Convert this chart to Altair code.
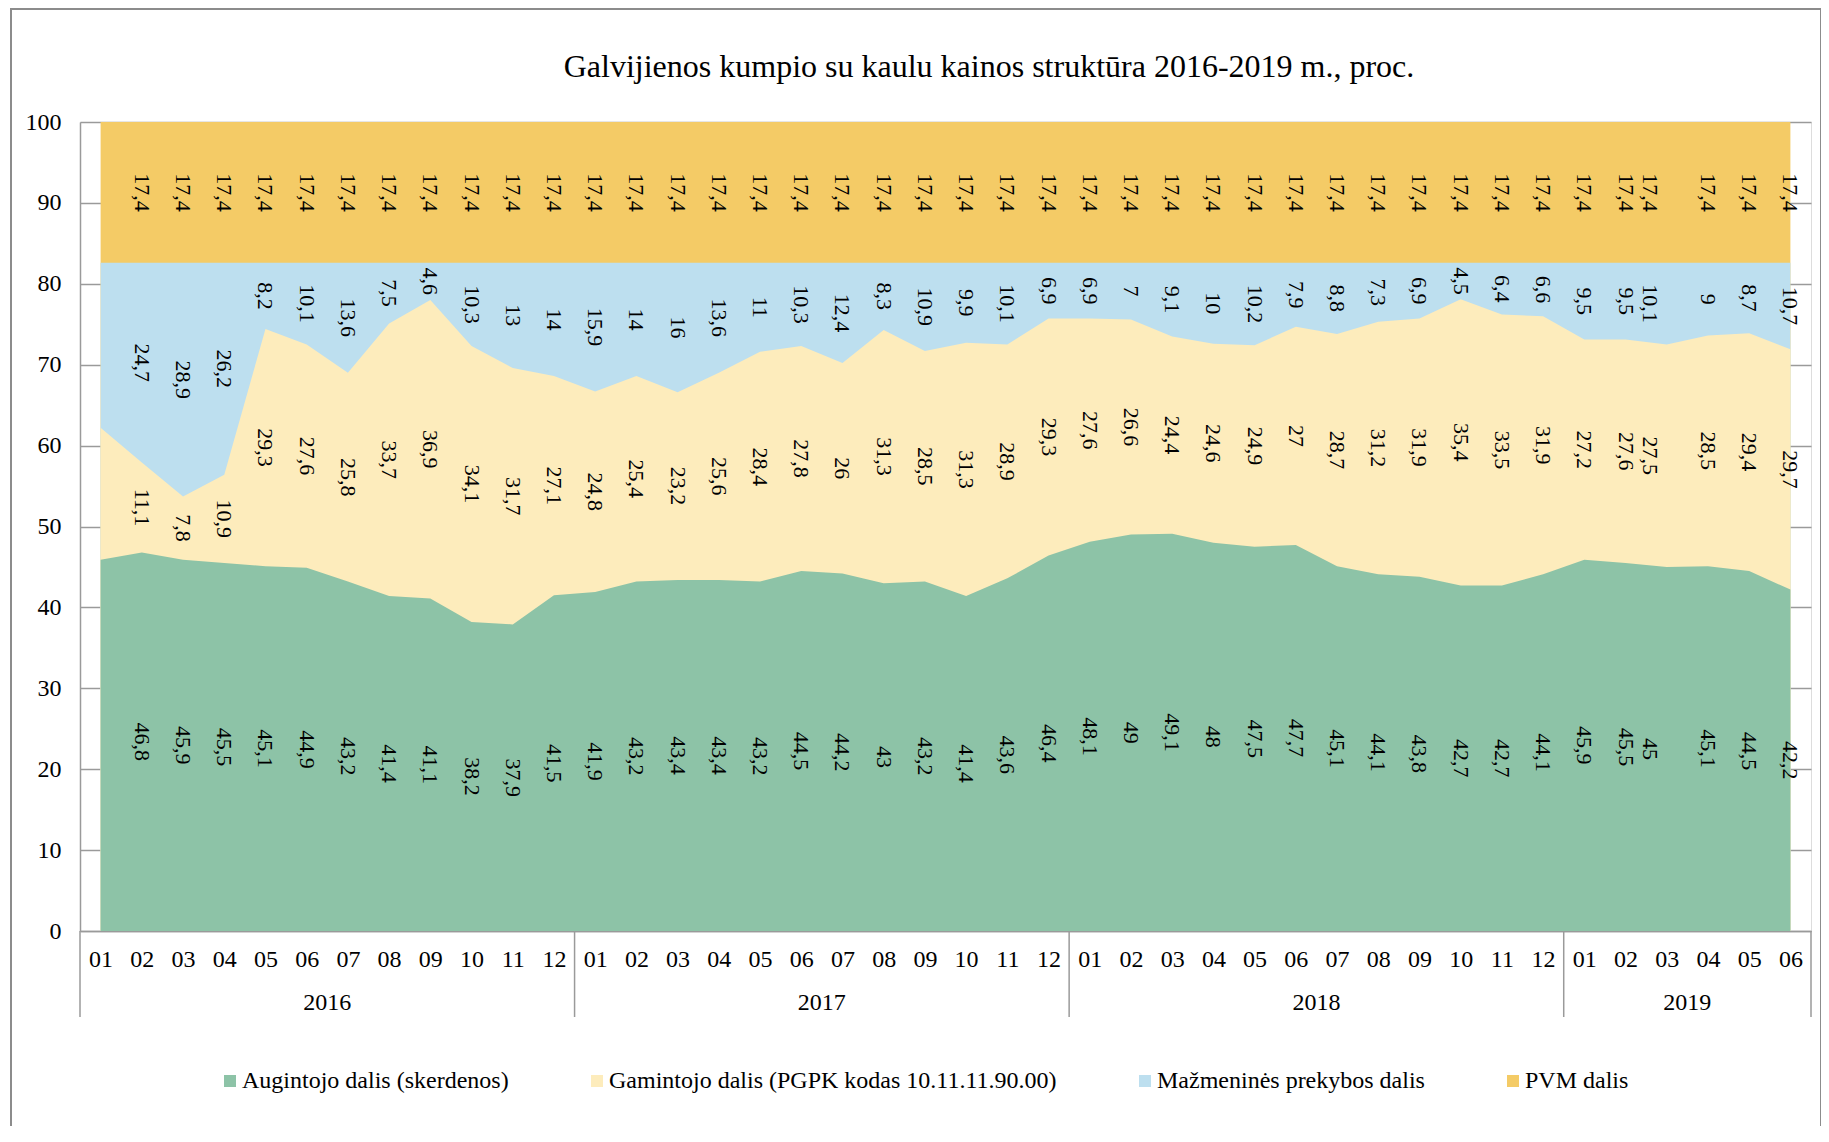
import json
import altair as alt
import pandas as pd

# ---------------- data ----------------
title_text = "Galvijienos kumpio su kaulu kainos struktūra 2016-2019 m., proc."
years = ["2016", "2017", "2018", "2019"]
months_in_year = [12, 12, 12, 6]
month_names = ["01", "02", "03", "04", "05", "06", "07", "08", "09", "10", "11", "12"]

series = [
    "Augintojo dalis (skerdenos)",
    "Gamintojo dalis (PGPK kodas 10.11.11.90.00)",
    "Mažmeninės prekybos dalis",
    "PVM dalis",
]
colors = ["#8DC3A7", "#FDECBC", "#BDDFEF", "#F4CB66"]

augintojo = [45.9, 46.8, 45.9, 45.5, 45.1, 44.9, 43.2, 41.4, 41.1, 38.2, 37.9, 41.5,
             41.9, 43.2, 43.4, 43.4, 43.2, 44.5, 44.2, 43.0, 43.2, 41.4, 43.6, 46.4,
             48.1, 49.0, 49.1, 48.0, 47.5, 47.7, 45.1, 44.1, 43.8, 42.7, 42.7, 44.1,
             45.9, 45.5, 45.0, 45.1, 44.5, 42.2]
gamintojo = [16.3, 11.1, 7.8, 10.9, 29.3, 27.6, 25.8, 33.7, 36.9, 34.1, 31.7, 27.1,
             24.8, 25.4, 23.2, 25.6, 28.4, 27.8, 26.0, 31.3, 28.5, 31.3, 28.9, 29.3,
             27.6, 26.6, 24.4, 24.6, 24.9, 27.0, 28.7, 31.2, 31.9, 35.4, 33.5, 31.9,
             27.2, 27.6, 27.5, 28.5, 29.4, 29.7]
mazmenines = [20.4, 24.7, 28.9, 26.2, 8.2, 10.1, 13.6, 7.5, 4.6, 10.3, 13.0, 14.0,
              15.9, 14.0, 16.0, 13.6, 11.0, 10.3, 12.4, 8.3, 10.9, 9.9, 10.1, 6.9,
              6.9, 7.0, 9.1, 10.0, 10.2, 7.9, 8.8, 7.3, 6.9, 4.5, 6.4, 6.6,
              9.5, 9.5, 10.1, 9.0, 8.7, 10.7]
pvm = [17.4, 17.4, 17.4, 17.4, 17.4, 17.4, 17.4, 17.4, 17.4, 17.4, 17.4, 17.4,
       17.4, 17.4, 17.4, 17.4, 17.4, 17.4, 17.4, 17.4, 17.4, 17.4, 17.4, 17.4,
       17.4, 17.4, 17.4, 17.4, 17.4, 17.4, 17.4, 17.4, 17.4, 17.4, 17.4, 17.4,
       17.4, 17.4, 17.4, 17.4, 17.4, 17.4]

unlabelled_points = [0]        # 2016-01 has no data labels
shifted_label_points = [38]    # 2019-03 labels drawn slightly to the left

# ---------------- tables ----------------
month_labels = []
for y, n in zip(years, months_in_year):
    month_labels += month_names[:n]
n_points = len(month_labels)

rows = []
values_by_series = [augintojo, gamintojo, mazmenines, pvm]
for i in range(n_points):
    bottom = 0.0
    for k, s in enumerate(series):
        v = values_by_series[k][i]
        top = bottom + v
        if i in unlabelled_points:
            grp = "none"
        elif i in shifted_label_points:
            grp = "shift"
        else:
            grp = "normal"
        rows.append({
            "idx": i, "series": s, "order": k, "value": v,
            "bottom": bottom, "top": top, "mid": (bottom + top) / 2,
            "label": f"{v:g}".replace(".", ","), "grp": grp,
        })
        bottom = top
df = pd.DataFrame(rows)

bounds = [-0.5]
for n in months_in_year:
    bounds.append(bounds[-1] + n)
bounds_df = pd.DataFrame({"idx": bounds})
years_df = pd.DataFrame({
    "idx": [(bounds[j] + bounds[j + 1]) / 2 for j in range(len(years))],
    "year": years,
})

# ---------------- chart ----------------
W, H = 1731, 809
FONT = "Liberation Serif"
GRAY = "#9A9A9A"

x_scale = alt.Scale(domain=[-0.5, n_points - 0.5], nice=False, zero=False)
x_axis = alt.Axis(
    values=list(range(n_points)),
    labelExpr=json.dumps(month_labels) + "[datum.value]",
    grid=False, ticks=False, domainColor=GRAY, domainWidth=1.5,
    labelFont=FONT, labelFontSize=24, labelColor="black", labelPadding=16,
    labelOverlap=False, labelFlush=False, title=None,
)
y_scale = alt.Scale(domain=[0, 100], nice=False)
y_axis = alt.Axis(
    values=list(range(0, 101, 10)), grid=True, gridColor=GRAY, gridWidth=1.5,
    ticks=False, domainColor=GRAY, domainWidth=1.5,
    labelFont=FONT, labelFontSize=24, labelColor="black", labelPadding=19,
    title=None,
)
X = alt.X("idx:Q", scale=x_scale, axis=x_axis)
color = alt.Color(
    "series:N",
    scale=alt.Scale(domain=series, range=colors),
    legend=alt.Legend(
        title=None, orient="none", direction="horizontal", columns=4,
        legendX=138, legendY=947, symbolType="square", symbolSize=144,
        symbolStrokeWidth=0, labelFont=FONT, labelFontSize=24,
        labelColor="black", labelOffset=0, columnPadding=76, labelLimit=800,
    ),
)

base = alt.Chart(df)
area_layers = []
for s in reversed(series):
    area_layers.append(
        base.transform_filter(alt.datum.series == s)
        .mark_area(opacity=1, line=False)
        .encode(
            x=X,
            y=alt.Y("top:Q", scale=y_scale, axis=y_axis, stack=False),
            y2=alt.value(H),
            color=color,
        )
    )

labels_normal = base.transform_filter(alt.datum.grp == "normal").mark_text(
    angle=90, align="center", baseline="middle", font=FONT, fontSize=22, color="black"
).encode(x=X, y=alt.Y("mid:Q", scale=y_scale, axis=y_axis), text="label:N")

labels_shift = base.transform_filter(alt.datum.grp == "shift").mark_text(
    angle=90, align="center", baseline="middle", font=FONT, fontSize=22, color="black", dy=17
).encode(x=X, y=alt.Y("mid:Q", scale=y_scale, axis=y_axis), text="label:N")

separators = alt.Chart(bounds_df).mark_rule(color=GRAY, strokeWidth=1.5).encode(
    x=X, y=alt.value(H), y2=alt.value(H + 86)
)
year_text = alt.Chart(years_df).mark_text(
    font=FONT, fontSize=24, color="black", baseline="middle", align="center"
).encode(x=X, y=alt.value(H + 72), text="year:N")

title_df = pd.DataFrame({"t": [title_text]})
title_mark = alt.Chart(title_df).mark_text(
    font=FONT, fontSize=32, color="black", baseline="middle", align="center"
).encode(x=alt.value(909), y=alt.value(-55), text="t:N")

border = alt.Chart(pd.DataFrame({"k": [0]})).mark_rect(
    fill="transparent", stroke="#8C8C8C", strokeWidth=2
).encode(x=alt.value(-69), x2=alt.value(1741), y=alt.value(-113), y2=alt.value(1200))

chart = alt.layer(
    *area_layers, labels_normal, labels_shift, separators, year_text, title_mark, border
).properties(
    width=W, height=H,
    autosize=alt.AutoSizeParams(type="none"),
    padding={"left": 72, "top": 114, "right": 10, "bottom": 195},
).configure_view(stroke=None).configure(background="white")

chart.save("out.html", embed_options={"renderer": "svg", "actions": False})
